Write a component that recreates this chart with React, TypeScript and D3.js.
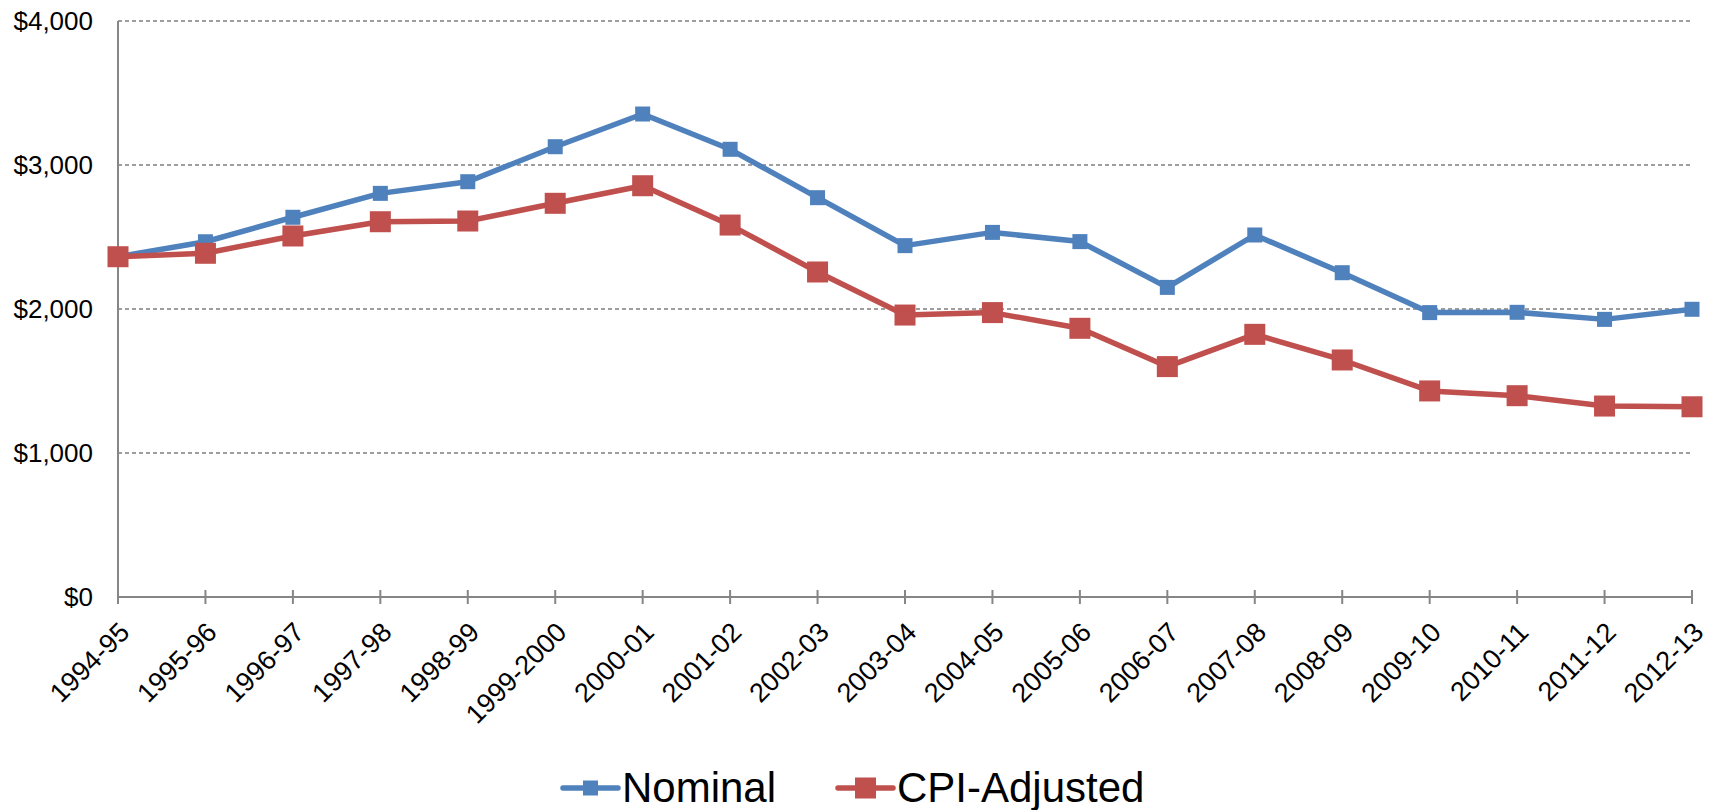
import React, { useEffect, useRef } from 'react';
import * as d3 from 'd3';

const years = [
  '1994-95', '1995-96', '1996-97', '1997-98', '1998-99', '1999-2000', '2000-01',
  '2001-02', '2002-03', '2003-04', '2004-05', '2005-06', '2006-07', '2007-08',
  '2008-09', '2009-10', '2010-11', '2011-12', '2012-13'
];
const nominal = [
  2363, 2467, 2637, 2803, 2884, 3127, 3354, 3109, 2773, 2440,
  2532, 2468, 2150, 2514, 2252, 1975, 1977, 1928, 1998
];
const cpiAdjusted = [
  2363, 2387, 2507, 2606, 2611, 2734, 2856, 2583, 2257, 1958,
  1975, 1866, 1600, 1824, 1646, 1431, 1398, 1326, 1321
];
const yTicks = [0, 1000, 2000, 3000, 4000];

const series = [
  { name: 'Nominal', values: nominal, color: '#4F81BD', marker: 15 },
  { name: 'CPI-Adjusted', values: cpiAdjusted, color: '#C0504D', marker: 21 }
];

const App = () => {
  const width = 1709,
    height = 810,
    margin = { left: 118, top: 21, bottom: 213, right: 17 };

  const svgRef = useRef<SVGSVGElement>(null);

  useEffect(() => {
    const svg = d3.select(svgRef.current);
    svg.selectAll('*').remove();

    const x = d3.scalePoint<string>()
      .domain(years)
      .range([margin.left, width - margin.right]);
    const y = d3.scaleLinear()
      .domain([0, 4000])
      .range([height - margin.bottom, margin.top]);

    const font = 'Liberation Sans, Arial, sans-serif';

    // gridlines
    svg.append('g')
      .selectAll('line')
      .data(yTicks.filter(d => d > 0))
      .join('line')
      .attr('x1', margin.left)
      .attr('x2', width - margin.right)
      .attr('y1', d => y(d))
      .attr('y2', d => y(d))
      .attr('stroke', '#7f7f7f')
      .attr('stroke-width', 1.5)
      .attr('stroke-dasharray', '4,3');

    // y labels
    svg.append('g')
      .attr('font-family', font)
      .attr('font-size', 26)
      .selectAll('text')
      .data(yTicks)
      .join('text')
      .attr('x', margin.left - 25)
      .attr('y', d => y(d))
      .attr('dy', '0.36em')
      .attr('text-anchor', 'end')
      .attr('fill', '#000')
      .text(d => d3.format('$,')(d));

    // axes
    svg.append('line')
      .attr('x1', margin.left).attr('x2', margin.left)
      .attr('y1', margin.top).attr('y2', y(0))
      .attr('stroke', '#868686').attr('stroke-width', 2);
    svg.append('line')
      .attr('x1', margin.left).attr('x2', width - margin.right)
      .attr('y1', y(0)).attr('y2', y(0))
      .attr('stroke', '#868686').attr('stroke-width', 2);
    svg.append('g')
      .selectAll('line')
      .data(years)
      .join('line')
      .attr('x1', d => x(d)!)
      .attr('x2', d => x(d)!)
      .attr('y1', y(0) - 7)
      .attr('y2', y(0) + 7)
      .attr('stroke', '#868686')
      .attr('stroke-width', 2);

    // x labels
    svg.append('g')
      .attr('font-family', font)
      .attr('font-size', 27)
      .selectAll('text')
      .data(years)
      .join('text')
      .attr('transform', d => `translate(${x(d)! + 13},${y(0) + 37}) rotate(-45)`)
      .attr('text-anchor', 'end')
      .attr('fill', '#000')
      .text(d => d);

    // lines and markers
    const line = d3.line<number>()
      .x((_, i) => x(years[i])!)
      .y(d => y(d));

    series.forEach(s => {
      svg.append('path')
        .datum(s.values)
        .attr('fill', 'none')
        .attr('stroke', s.color)
        .attr('stroke-width', 5.5)
        .attr('stroke-linejoin', 'round')
        .attr('d', line);
      svg.append('g')
        .selectAll('rect')
        .data(s.values)
        .join('rect')
        .attr('x', (_, i) => x(years[i])! - s.marker / 2)
        .attr('y', d => y(d) - s.marker / 2)
        .attr('width', s.marker)
        .attr('height', s.marker)
        .attr('fill', s.color);
    });

    // legend
    const legendX = [563, 838];
    const legendY = 788;
    const legend = svg.append('g')
      .selectAll('g')
      .data(series)
      .join('g')
      .attr('transform', (_, i) => `translate(${legendX[i]},${legendY})`);
    legend.append('line')
      .attr('x1', 0).attr('x2', 55)
      .attr('stroke', d => d.color)
      .attr('stroke-width', 5.5)
      .attr('stroke-linecap', 'round');
    legend.append('rect')
      .attr('x', d => 27.5 - d.marker / 2)
      .attr('y', d => -d.marker / 2)
      .attr('width', d => d.marker)
      .attr('height', d => d.marker)
      .attr('fill', d => d.color);
    legend.append('text')
      .attr('x', 59)
      .attr('y', 14)
      .attr('font-family', font)
      .attr('font-size', 42)
      .attr('fill', '#000')
      .text(d => d.name);
  }, []);

  return (
    <div style={{ position: 'fixed', left: 0, top: 0, background: '#fff' }}>
      <svg ref={svgRef} width={width} height={height} style={{ display: 'block' }}></svg>
    </div>
  );
};

export default App;
